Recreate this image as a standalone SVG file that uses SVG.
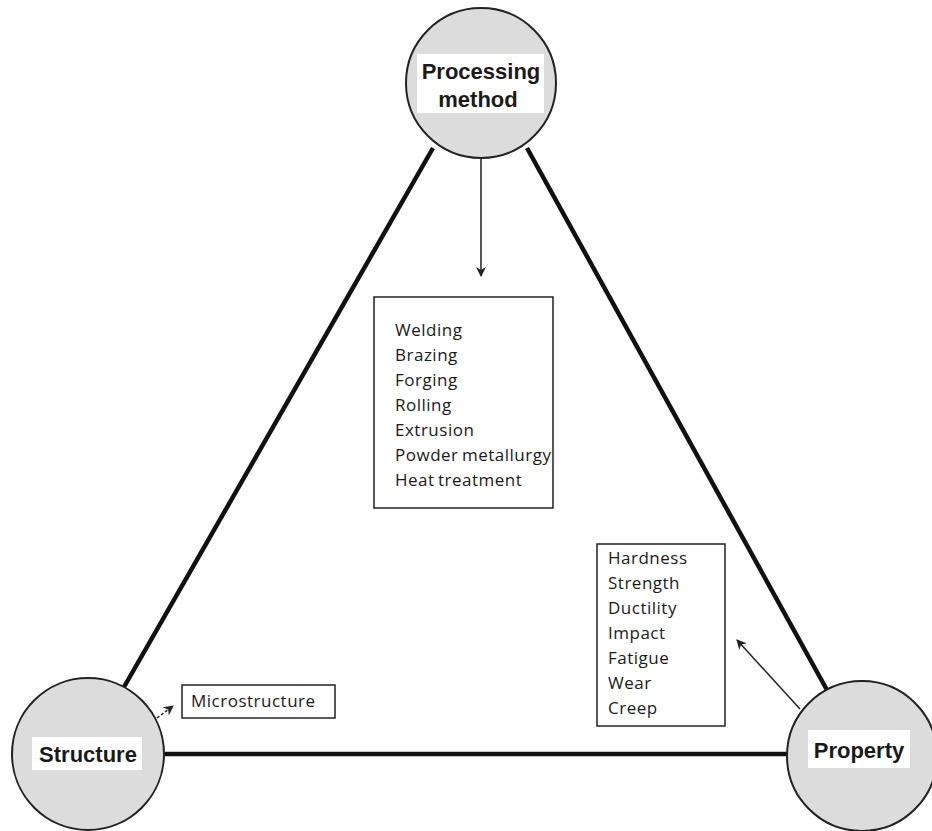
<svg xmlns="http://www.w3.org/2000/svg" width="932" height="831" viewBox="0 0 932 831">
<style>
.edge{stroke:#111;stroke-width:4.5;fill:none;stroke-linecap:butt}
.thin{stroke:#222;stroke-width:1.5;fill:none}
.circ{fill:#dcdcdc;stroke:#222;stroke-width:2}
.lab{fill:#fff}
.big{font-family:"Liberation Sans",Arial,sans-serif;font-weight:bold;font-size:22px;fill:#1a1a1a}
.box{fill:#fff;stroke:#222;stroke-width:1.5}
.list{font-family:"Open Sans","DejaVu Sans",sans-serif;font-size:17px;letter-spacing:0.5px;word-spacing:-1.5px;fill:#1a1a1a}
</style>
<defs>
<marker id="ah" viewBox="0 0 10 10" refX="9" refY="5" markerWidth="10" markerHeight="10" markerUnits="userSpaceOnUse" orient="auto">
<path d="M0,0 L10,5 L0,10 L3,5 Z" fill="#222"/>
</marker>
</defs>
<rect width="932" height="831" fill="#fff"/>
<g id="connectors">
<line class="edge" x1="124" y1="687" x2="433" y2="148"/>
<line class="edge" x1="527" y1="148" x2="827" y2="690"/>
<line class="edge" x1="165" y1="754" x2="788" y2="754"/>
<line class="thin" x1="481" y1="158" x2="481" y2="276" marker-end="url(#ah)"/>
<line class="thin" x1="800" y1="709" x2="737" y2="640" marker-end="url(#ah)"/>
<line class="thin" x1="157" y1="718" x2="173" y2="706" stroke-dasharray="3,2" marker-end="url(#ah)"/>
</g>
<g id="processing">
<circle class="circ" cx="481" cy="83" r="75"/>
<rect class="lab" x="417" y="54" width="127" height="59"/>
<text class="big" x="481" y="79" text-anchor="middle">Processing</text>
<text class="big" x="478" y="107" text-anchor="middle">method</text>
</g>
<g id="structure">
<circle class="circ" cx="88" cy="754" r="76"/>
<rect class="lab" x="32" y="737" width="110" height="33"/>
<text class="big" x="88" y="762" text-anchor="middle">Structure</text>
</g>
<g id="property">
<circle class="circ" cx="862" cy="756" r="75"/>
<rect class="lab" x="808" y="730" width="102" height="38"/>
<text class="big" x="859" y="758" text-anchor="middle">Property</text>
</g>
<g id="methods">
<rect class="box" x="374" y="297" width="179" height="211"/>
<text class="list" x="395"><tspan x="395" y="336">Welding</tspan><tspan x="395" y="361">Brazing</tspan><tspan x="395" y="386">Forging</tspan><tspan x="395" y="411">Rolling</tspan><tspan x="395" y="436">Extrusion</tspan><tspan x="395" y="461">Powder metallurgy</tspan><tspan x="395" y="486">Heat treatment</tspan></text>
</g>
<g id="properties">
<rect class="box" x="597" y="544" width="128" height="182"/>
<text class="list"><tspan x="608" y="564">Hardness</tspan><tspan x="608" y="589">Strength</tspan><tspan x="608" y="614">Ductility</tspan><tspan x="608" y="639">Impact</tspan><tspan x="608" y="664">Fatigue</tspan><tspan x="608" y="689">Wear</tspan><tspan x="608" y="714">Creep</tspan></text>
</g>
<g id="microstructure">
<rect class="box" x="182" y="685" width="153" height="33"/>
<text class="list" x="191" y="707">Microstructure</text>
</g>
</svg>
